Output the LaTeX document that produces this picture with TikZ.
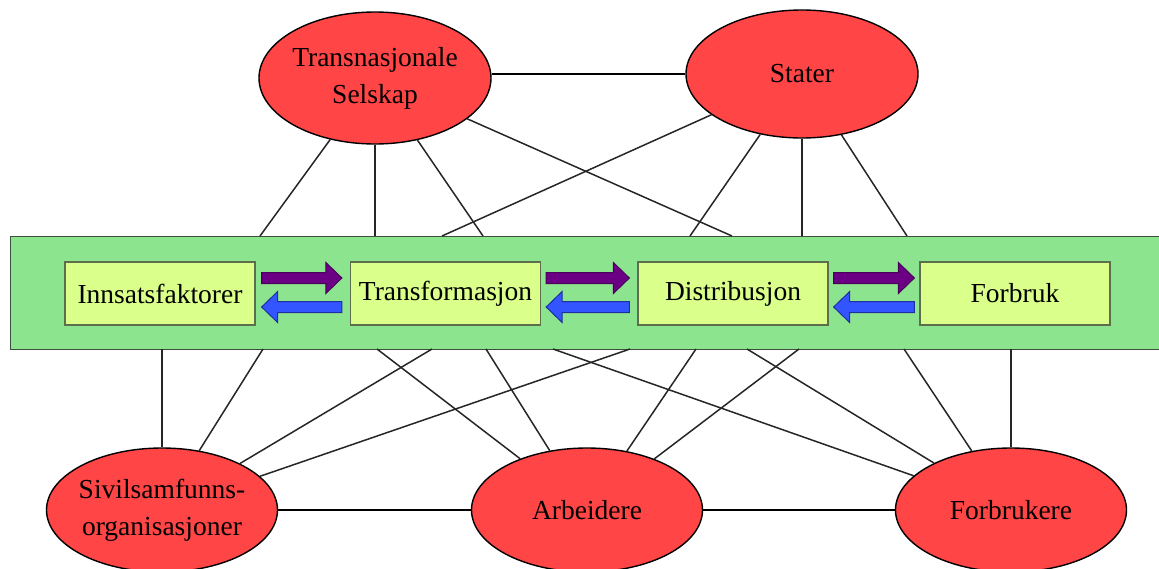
\documentclass[tikz,border=0pt]{standalone}
\usepackage{fontspec}
\setmainfont{Liberation Serif}
\usetikzlibrary{shapes.geometric,calc}
\definecolor{ellred}{HTML}{FF4545}
\definecolor{bandgreen}{HTML}{8DE48F}
\definecolor{bandline}{HTML}{3F4F3F}
\definecolor{boxfill}{HTML}{DAFF8A}
\definecolor{boxline}{HTML}{5C6E4C}
\definecolor{arrpurple}{HTML}{6C0084}
\definecolor{arrpurpleline}{HTML}{48005A}
\definecolor{arrblue}{HTML}{3355FF}
\definecolor{arrblueline}{HTML}{1F2FA0}
\definecolor{edgegray}{HTML}{262626}
\newcommand\ArrRt[3]{\path (#1) coordinate (tmpA) (#2) coordinate (tmpB);
  \draw[#3] ($(tmpA)+(0,-5.5)$) -- ($(tmpB)+(-16,-5.5)$) -- ($(tmpB)+(-16,-15.5)$) -- (tmpB)
    -- ($(tmpB)+(-16,15.5)$) -- ($(tmpB)+(-16,5.5)$) -- ($(tmpA)+(0,5.5)$) -- cycle;}
\newcommand\ArrLf[3]{\path (#1) coordinate (tmpA) (#2) coordinate (tmpB);
  \draw[#3] (tmpA) -- ($(tmpA)+(16,-15.5)$) -- ($(tmpA)+(16,-5.5)$) -- ($(tmpB)+(0,-5.5)$)
    -- ($(tmpB)+(0,5.5)$) -- ($(tmpA)+(16,5.5)$) -- ($(tmpA)+(16,15.5)$) -- cycle;}
\begin{document}
\begin{tikzpicture}[x=1pt,y=-1pt,
  font=\fontsize{27.5}{37}\selectfont,
  actor/.style={ellipse, draw=black, line width=1.4pt, fill=ellred, inner sep=0pt, inner xsep=-4pt, align=center},
  stagebox/.style={rectangle, draw=boxline, line width=1.3pt, fill=boxfill, minimum width=190pt, minimum height=63pt, inner sep=0pt},
  bandbox/.style={rectangle, draw=bandline, line width=1.4pt, fill=bandgreen, inner sep=0pt},
  edge/.style={draw=edgegray, line width=1.5pt},
  hedge/.style={draw=black, line width=1.8pt},
  parrow/.style={fill=arrpurple, draw=arrpurpleline, line width=1pt, line join=miter},
  barrow/.style={fill=arrblue, draw=arrblueline, line width=1pt, line join=miter}]
\useasboundingbox (0,0) rectangle (1159,568);

% band
\node[bandbox, minimum width=1160pt, minimum height=113pt, anchor=north west] (band) at (10,236) {};

% actors
\node[actor, minimum width=232pt, minimum height=132pt] (trans) at (375,78) {Transnasjonale\\Selskap};
\node[actor, minimum width=232pt, minimum height=128pt] (stater) at (802,74) {Stater};
\node[actor, minimum width=231pt, minimum height=124pt] (sivil) at (162,510) {Sivilsamfunns-\\organisasjoner};
\node[actor, minimum width=231pt, minimum height=124pt] (arb) at (587,510) {Arbeidere};
\node[actor, minimum width=231pt, minimum height=124pt] (forb) at (1011,510) {Forbrukere};

% stages
\node[stagebox] (s1) at (160,293.5) {Innsatsfaktorer};
\node[stagebox] (s2) at (445.5,293.5) {Transformasjon};
\node[stagebox] (s3) at (733,293.5) {Distribusjon};
\node[stagebox] (s4) at (1015,293.5) {Forbruk};

% arrows between stages
\ArrRt{$(s1.east)+(6,-15.5)$}{$(s2.west)+(-8,-15.5)$}{parrow}
\ArrLf{$(s1.east)+(6,13.5)$}{$(s2.west)+(-8,13.5)$}{barrow}
\ArrRt{$(s2.east)+(5,-15.5)$}{$(s3.west)+(-8,-15.5)$}{parrow}
\ArrLf{$(s2.east)+(5,13.5)$}{$(s3.west)+(-8,13.5)$}{barrow}
\ArrRt{$(s3.east)+(5,-15.5)$}{$(s4.west)+(-5,-15.5)$}{parrow}
\ArrLf{$(s3.east)+(5,13.5)$}{$(s4.west)+(-5,13.5)$}{barrow}

% points on band top
\coordinate (t1) at (260,236);
\coordinate (t2) at (375,236);
\coordinate (t3) at (483,236);
\coordinate (t4) at (732,236);
\coordinate (t5) at (442,236);
\coordinate (t6) at (690,236);
\coordinate (t7) at (802,236);
\coordinate (t8) at (907,236);
% points on band bottom
\coordinate (b1) at (162,349);
\coordinate (b2) at (263,349);
\coordinate (b3) at (377,349);
\coordinate (b4) at (432,349);
\coordinate (b5) at (486,349);
\coordinate (b6) at (553,349);
\coordinate (b7) at (630,349);
\coordinate (b8) at (696,349);
\coordinate (b9) at (747,349);
\coordinate (b10) at (799,349);
\coordinate (b11) at (904,349);
\coordinate (b12) at (1011,349);

% connectors
\draw[hedge] (trans.east |- stater.west) -- (stater.west);
\draw[hedge] (sivil) -- (arb);
\draw[hedge] (arb) -- (forb);
\draw[edge] (trans) -- (t1);
\draw[edge] (trans) -- (t2);
\draw[edge] (trans) -- (t3);
\draw[edge] (trans) -- (t4);
\draw[edge] (stater) -- (t5);
\draw[edge] (stater) -- (t6);
\draw[edge] (stater) -- (t7);
\draw[edge] (stater) -- (t8);
\draw[edge] (sivil) -- (b1);
\draw[edge] (sivil) -- (b2);
\draw[edge] (arb) -- (b3);
\draw[edge] (sivil) -- (b4);
\draw[edge] (arb) -- (b5);
\draw[edge] (forb) -- (b6);
\draw[edge] (sivil) -- (b7);
\draw[edge] (arb) -- (b8);
\draw[edge] (forb) -- (b9);
\draw[edge] (arb) -- (b10);
\draw[edge] (forb) -- (b11);
\draw[edge] (forb) -- (b12);
\end{tikzpicture}
\end{document}
